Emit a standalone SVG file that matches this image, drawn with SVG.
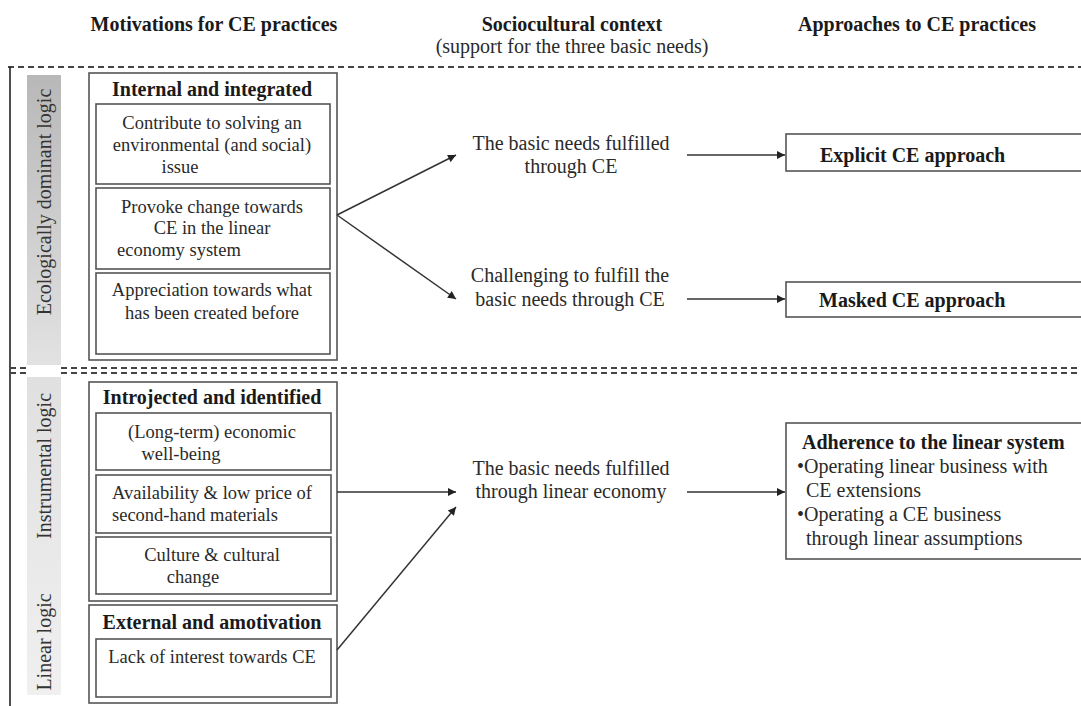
<svg xmlns="http://www.w3.org/2000/svg" width="1081" height="706" viewBox="0 0 1081 706">
<defs>
<style>
text{font-family:"Liberation Serif","Times New Roman",serif;fill:#2a2a2a}
.h{font-size:20px;font-weight:bold;text-anchor:middle;fill:#1a1a1a}
.sub{font-size:20px;text-anchor:middle}
.t{font-size:20px;font-weight:bold;text-anchor:middle;fill:#1a1a1a}
.b{font-size:18.5px;text-anchor:middle}
.m{font-size:20px;text-anchor:middle}
.r{font-size:20px}
.rb{font-size:20px;font-weight:bold;fill:#1a1a1a}
.side{font-size:20px;text-anchor:middle;fill:#333}
.box{fill:none;stroke:#555;stroke-width:1.6}
.dash{stroke:#444;stroke-width:1.8;stroke-dasharray:6 4;fill:none}
.conn{stroke:#333;stroke-width:1.5;fill:none;marker-end:url(#ah)}
</style>
<marker id="ah" viewBox="0 0 10 10" refX="10" refY="5" markerWidth="10" markerHeight="8" markerUnits="userSpaceOnUse" orient="auto">
<path d="M0,0 L10,5 L0,10 Z" fill="#222"/>
</marker>
<linearGradient id="g1" x1="0" y1="0" x2="0" y2="1">
<stop offset="0" stop-color="#b8b8b8"/>
<stop offset="1" stop-color="#e2e2e2"/>
</linearGradient>
<linearGradient id="g2" x1="0" y1="0" x2="0" y2="1">
<stop offset="0" stop-color="#e0e0e0"/>
<stop offset="1" stop-color="#f0f0f0"/>
</linearGradient>
</defs>
<rect width="1081" height="706" fill="#fff"/>

<g id="headers">
<text class="h" x="214" y="31">Motivations for CE practices</text>
<text class="h" x="572" y="31">Sociocultural context</text>
<text class="sub" x="572" y="53">(support for the three basic needs)</text>
<text class="h" x="917" y="31">Approaches to CE practices</text>
</g>

<g id="frame">
<line x1="8" y1="67" x2="1081" y2="67" class="dash"/>
<line x1="10" y1="67" x2="10" y2="706" stroke="#222" stroke-width="1.6"/>
<line x1="10" y1="368" x2="27" y2="368" class="dash"/>
<line x1="10" y1="373" x2="27" y2="373" class="dash"/>
<line x1="61" y1="368" x2="1081" y2="368" class="dash"/>
<line x1="61" y1="373" x2="1081" y2="373" class="dash"/>
</g>

<g id="side-ecological">
<rect x="27" y="75" width="34" height="290" fill="url(#g1)"/>
<text class="side" transform="translate(51,202) rotate(-90)">Ecologically dominant logic</text>
</g>
<g id="side-instrumental-linear">
<rect x="27" y="377" width="34" height="318" fill="url(#g2)"/>
<text class="side" transform="translate(51,466) rotate(-90)">Instrumental logic</text>
<text class="side" transform="translate(51,642) rotate(-90)">Linear logic</text>
</g>

<g id="internal-integrated">
<rect class="box" x="89" y="73" width="248" height="287"/>
<text class="t" x="212" y="96">Internal and integrated</text>
<rect class="box" x="96" y="104" width="234" height="80"/>
<text class="b" x="212" y="129">Contribute to solving an</text>
<text class="b" x="212" y="151">environmental (and social)</text>
<text class="b" x="180" y="173">issue</text>
<rect class="box" x="96" y="188" width="234" height="81"/>
<text class="b" x="212" y="213">Provoke change towards</text>
<text class="b" x="212" y="234">CE in the linear</text>
<text class="b" x="117" y="256" style="text-anchor:start">economy system</text>
<rect class="box" x="96" y="273" width="234" height="81"/>
<text class="b" x="212" y="296">Appreciation towards what</text>
<text class="b" x="212" y="319">has been created before</text>
</g>

<g id="introjected-identified">
<rect class="box" x="89" y="382" width="248" height="219"/>
<text class="t" x="212" y="404">Introjected and identified</text>
<rect class="box" x="96" y="413" width="235" height="57"/>
<text class="b" x="212" y="438">(Long-term) economic</text>
<text class="b" x="181" y="460">well-being</text>
<rect class="box" x="96" y="475" width="235" height="58"/>
<text class="b" x="112" y="499" style="text-anchor:start">Availability &amp; low price of</text>
<text class="b" x="112" y="521" style="text-anchor:start">second-hand materials</text>
<rect class="box" x="96" y="537" width="235" height="57"/>
<text class="b" x="212" y="561">Culture &amp; cultural</text>
<text class="b" x="193" y="583">change</text>
</g>

<g id="external-amotivation">
<rect class="box" x="89" y="605" width="248" height="98"/>
<text class="t" x="212" y="629">External and amotivation</text>
<rect class="box" x="96" y="639" width="235" height="58"/>
<text class="b" x="212" y="663">Lack of interest towards CE</text>
</g>

<g id="ctx-ce">
<text class="m" x="571" y="150">The basic needs fulfilled</text>
<text class="m" x="571" y="173">through CE</text>
</g>
<g id="ctx-challenging">
<text class="m" x="570" y="282">Challenging to fulfill the</text>
<text class="m" x="570" y="306">basic needs through CE</text>
</g>
<g id="ctx-linear">
<text class="m" x="571" y="475">The basic needs fulfilled</text>
<text class="m" x="571" y="498">through linear economy</text>
</g>

<g id="explicit">
<rect class="box" x="786" y="134" width="310" height="37"/>
<text class="rb" x="820" y="162">Explicit CE approach</text>
</g>
<g id="masked">
<rect class="box" x="786" y="282" width="310" height="35"/>
<text class="rb" x="819" y="307">Masked CE approach</text>
</g>
<g id="adherence">
<rect class="box" x="786" y="423" width="310" height="136"/>
<text class="rb" x="802" y="449">Adherence to the linear system</text>
<text class="r" x="797" y="473">•Operating linear business with</text>
<text class="r" x="806" y="497">CE extensions</text>
<text class="r" x="797" y="521">•Operating a CE business</text>
<text class="r" x="806" y="545">through linear assumptions</text>
</g>

<g id="connectors">
<line class="conn" x1="337" y1="215" x2="456" y2="155"/>
<line class="conn" x1="337" y1="215" x2="456" y2="299"/>
<line class="conn" x1="687" y1="155" x2="785" y2="155"/>
<line class="conn" x1="687" y1="299" x2="785" y2="299"/>
<line class="conn" x1="337" y1="492" x2="456" y2="492"/>
<line class="conn" x1="337" y1="650" x2="456" y2="507"/>
<line class="conn" x1="687" y1="492" x2="785" y2="492"/>
</g>
</svg>
